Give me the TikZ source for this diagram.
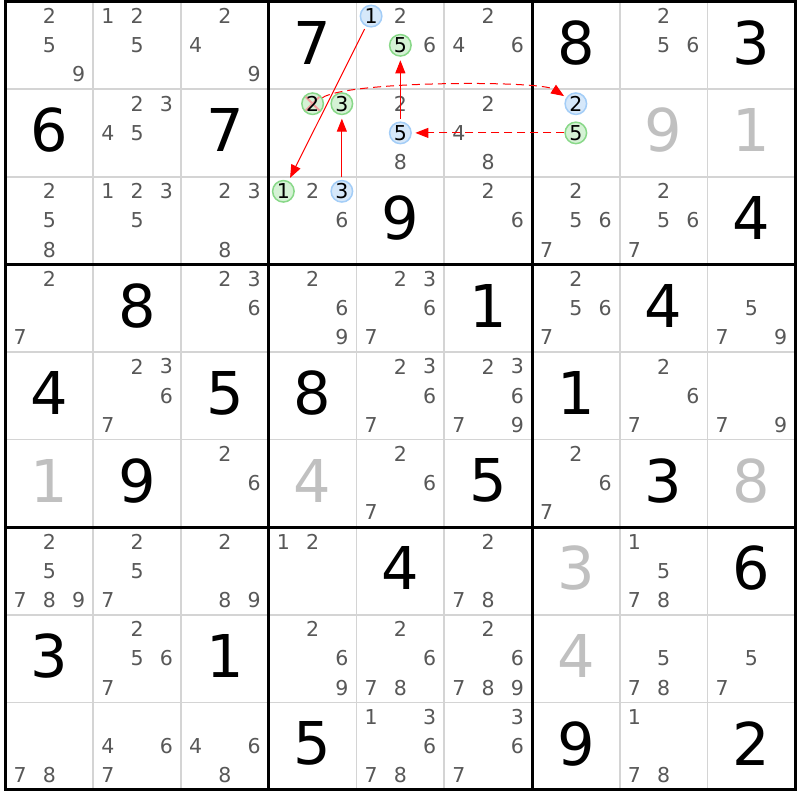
\documentclass[tikz,border=0pt]{standalone}
\usepackage{fontspec}
\setmainfont{DejaVu Sans}
\usetikzlibrary{arrows.meta}
\definecolor{candgray}{HTML}{585858}
\definecolor{solvedgray}{HTML}{C0C0C0}
\definecolor{thingray}{HTML}{D4D4D4}
\definecolor{bluefill}{HTML}{D6E8FA}
\definecolor{bluedraw}{HTML}{A3CDF7}
\definecolor{greenfill}{HTML}{D5F2D5}
\definecolor{greendraw}{HTML}{88D888}
\definecolor{crossred}{HTML}{F3A0A0}
\newcommand\cnd[3]{%
  \foreach \d in {#3}{%
    \pgfmathtruncatemacro\ii{(\d-1)/3}%
    \pgfmathtruncatemacro\jj{\d-1-3*\ii}%
    \pgfmathsetmacro\px{5.5+87.75*#2+14.6+29.25*\jj}%
    \pgfmathsetmacro\py{1.5+87.6*#1+14.6+29.2*\ii}%
    \node[cand] (p#1#2\d) at (\px,\py) {\d};
  }}
\newcommand\ccand[4]{%
  \pgfmathtruncatemacro\ii{(#3-1)/3}%
  \pgfmathtruncatemacro\jj{#3-1-3*\ii}%
  \pgfmathsetmacro\px{5.5+87.75*#2+14.6+29.25*\jj}%
  \pgfmathsetmacro\py{1.5+87.6*#1+14.6+29.2*\ii}%
  \node[cand,#4] (c#1#2#3) at (\px,\py) {#3};}
\newcommand\gvn[3]{%
  \pgfmathsetmacro\px{5.5+87.75*#2+43.875}%
  \pgfmathsetmacro\py{1.5+87.6*#1+43.8-2.5}%
  \node[given] (g#1#2) at (\px,\py) {#3};}
\newcommand\slv[3]{%
  \pgfmathsetmacro\px{5.5+87.75*#2+43.875}%
  \pgfmathsetmacro\py{1.5+87.6*#1+43.8-2.5}%
  \node[solved] (s#1#2) at (\px,\py) {#3};}
\begin{document}
\begin{tikzpicture}[x=1pt,y=-1pt,
  cand/.style={inner sep=0pt, text=candgray, font=\fontsize{20.5}{24}\selectfont},
  bigd/.style={inner sep=0pt, font=\fontsize{59}{70}\selectfont},
  given/.style={bigd, text=black},
  solved/.style={bigd, text=solvedgray},
  bluec/.style={circle, draw=bluedraw, fill=bluefill, line width=1.5pt, minimum size=21.5pt, text=black},
  greenc/.style={circle, draw=greendraw, fill=greenfill, line width=1.5pt, minimum size=21.5pt, text=black},
  crossed/.style={path picture={
    \draw[crossred, line width=2pt]
      ([shift={(-7,-7)}]path picture bounding box.center) -- ([shift={(7,7)}]path picture bounding box.center)
      ([shift={(-7,7)}]path picture bounding box.center) -- ([shift={(7,-7)}]path picture bounding box.center);}},
  thinline/.style={draw=thingray, line width=1.6pt},
  thickline/.style={draw=black, line width=3pt},
  link/.style={draw=red, line width=1pt, -{Triangle[length=13pt,width=10pt]}},
  weak/.style={link, dash pattern=on 8pt off 5pt},
]
\useasboundingbox (0,0) rectangle (800,800);
\fill[white] (0,0) rectangle (800,800);
% thin grid lines
\foreach \k in {1,2,4,5,7,8}{
  \draw[thinline] (5.5+87.75*\k,1.5) -- (5.5+87.75*\k,789.9);
  \draw[thinline] (5.5,1.5+87.6*\k) -- (795.25,1.5+87.6*\k);
}
% thick grid lines
\foreach \k in {0,3,6,9}{
  \draw[thickline] (5.5+87.75*\k,0) -- (5.5+87.75*\k,791.4);
  \draw[thickline] (4,1.5+87.6*\k) -- (796.75,1.5+87.6*\k);
}
% row 0
\cnd{0}{0}{2,5,9} \cnd{0}{1}{1,2,5} \cnd{0}{2}{2,4,9} \gvn{0}{3}{7}
\cnd{0}{4}{2,6} \ccand{0}{4}{1}{bluec} \ccand{0}{4}{5}{greenc}
\cnd{0}{5}{2,4,6} \gvn{0}{6}{8} \cnd{0}{7}{2,5,6} \gvn{0}{8}{3}
% row 1
\gvn{1}{0}{6} \cnd{1}{1}{2,3,4,5} \gvn{1}{2}{7}
\ccand{1}{3}{2}{greenc,crossed} \ccand{1}{3}{3}{greenc}
\cnd{1}{4}{2,8} \ccand{1}{4}{5}{bluec} \cnd{1}{5}{2,4,8}
\ccand{1}{6}{2}{bluec} \ccand{1}{6}{5}{greenc} \slv{1}{7}{9} \slv{1}{8}{1}
% row 2
\cnd{2}{0}{2,5,8} \cnd{2}{1}{1,2,3,5} \cnd{2}{2}{2,3,8}
\ccand{2}{3}{1}{greenc} \cnd{2}{3}{2,6} \ccand{2}{3}{3}{bluec}
\gvn{2}{4}{9} \cnd{2}{5}{2,6} \cnd{2}{6}{2,5,6,7} \cnd{2}{7}{2,5,6,7} \gvn{2}{8}{4}
% row 3
\cnd{3}{0}{2,7} \gvn{3}{1}{8} \cnd{3}{2}{2,3,6} \cnd{3}{3}{2,6,9} \cnd{3}{4}{2,3,6,7}
\gvn{3}{5}{1} \cnd{3}{6}{2,5,6,7} \gvn{3}{7}{4} \cnd{3}{8}{5,7,9}
% row 4
\gvn{4}{0}{4} \cnd{4}{1}{2,3,6,7} \gvn{4}{2}{5} \gvn{4}{3}{8} \cnd{4}{4}{2,3,6,7}
\cnd{4}{5}{2,3,6,7,9} \gvn{4}{6}{1} \cnd{4}{7}{2,6,7} \cnd{4}{8}{7,9}
% row 5
\slv{5}{0}{1} \gvn{5}{1}{9} \cnd{5}{2}{2,6} \slv{5}{3}{4} \cnd{5}{4}{2,6,7}
\gvn{5}{5}{5} \cnd{5}{6}{2,6,7} \gvn{5}{7}{3} \slv{5}{8}{8}
% row 6
\cnd{6}{0}{2,5,7,8,9} \cnd{6}{1}{2,5,7} \cnd{6}{2}{2,8,9} \cnd{6}{3}{1,2} \gvn{6}{4}{4}
\cnd{6}{5}{2,7,8} \slv{6}{6}{3} \cnd{6}{7}{1,5,7,8} \gvn{6}{8}{6}
% row 7
\gvn{7}{0}{3} \cnd{7}{1}{2,5,6,7} \gvn{7}{2}{1} \cnd{7}{3}{2,6,9} \cnd{7}{4}{2,6,7,8}
\cnd{7}{5}{2,6,7,8,9} \slv{7}{6}{4} \cnd{7}{7}{5,7,8} \cnd{7}{8}{5,7}
% row 8
\cnd{8}{0}{7,8} \cnd{8}{1}{4,6,7} \cnd{8}{2}{4,6,8} \gvn{8}{3}{5} \cnd{8}{4}{1,3,6,7,8}
\cnd{8}{5}{3,6,7} \gvn{8}{6}{9} \cnd{8}{7}{1,7,8} \gvn{8}{8}{2}
% links
\draw[link, shorten <=3pt, shorten >=3.5pt] (c041) -- (c231);
\draw[link, shorten <=2.5pt, shorten >=3.5pt] (c233) -- (c133);
\draw[link, shorten <=2.5pt, shorten >=3.5pt] (c145) -- (c045);
\draw[weak, shorten >=2.5pt] (c132) .. controls (350,80.5) and (540,80.5) .. (c162);
\draw[weak, shorten >=3.5pt] (c165) -- (c145);
\end{tikzpicture}
\end{document}
